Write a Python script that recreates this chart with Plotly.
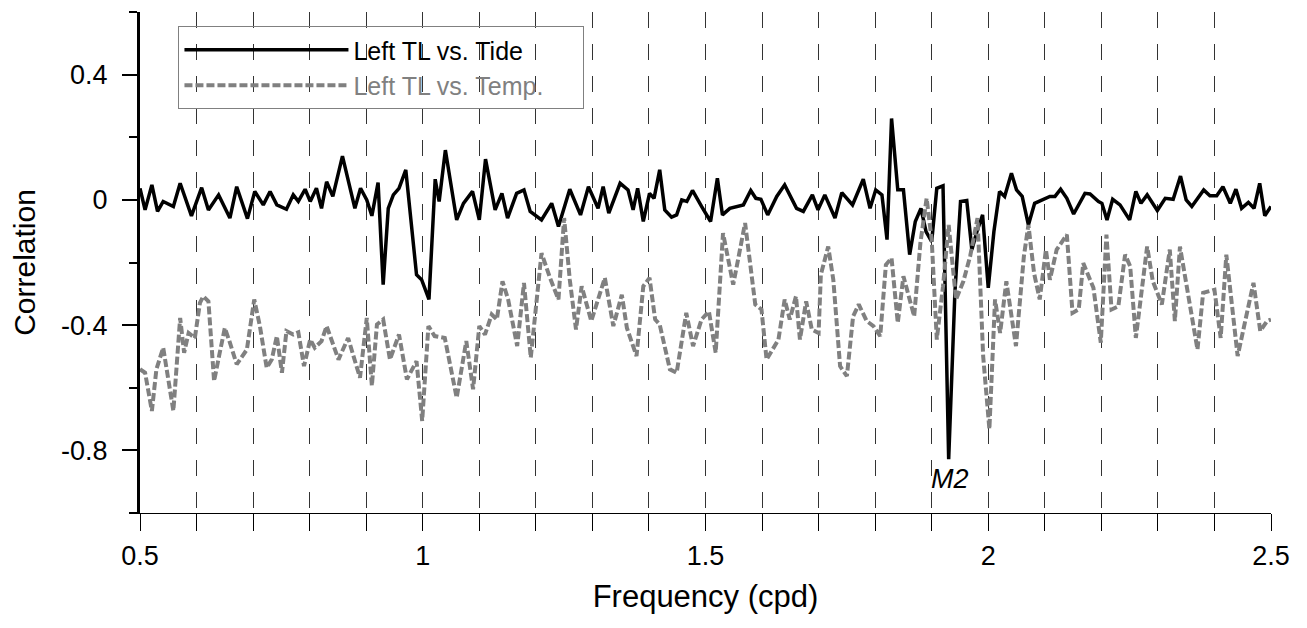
import plotly.graph_objects as go

# Left TL vs. Tide
tide_freq = [
    0.500, 0.509, 0.521, 0.531, 0.541, 0.559, 0.571, 0.591, 0.609, 0.621, 0.639, 0.659, 0.671, 0.690,
    0.703, 0.718, 0.730, 0.742, 0.759, 0.771, 0.780, 0.792, 0.801, 0.812, 0.821, 0.830,
    0.841, 0.858, 0.880, 0.890, 0.901, 0.910, 0.921, 0.930, 0.939, 0.948, 0.958, 0.970, 0.989, 0.998,
    1.011, 1.022, 1.029, 1.040, 1.060, 1.072, 1.088, 1.100, 1.111, 1.128, 1.140, 1.150,
    1.166, 1.179, 1.190, 1.210, 1.228, 1.240, 1.260, 1.279, 1.293, 1.310, 1.319, 1.329, 1.349, 1.363,
    1.372, 1.380, 1.390, 1.401, 1.409, 1.419, 1.428, 1.440, 1.449, 1.458, 1.467, 1.477, 1.493,
    1.509, 1.521, 1.530, 1.543, 1.567, 1.580, 1.589, 1.598, 1.610, 1.626, 1.640, 1.661, 1.673, 1.689,
    1.699, 1.711, 1.729, 1.741, 1.760, 1.779, 1.791, 1.801,
    1.812, 1.821, 1.829, 1.840, 1.850, 1.861, 1.871, 1.881, 1.890, 1.900, 1.909, 1.920, 1.930, 1.941,
    1.951, 1.962, 1.971, 1.980, 1.990, 2.000, 2.010, 2.020, 2.029, 2.041, 2.050, 2.060, 2.071, 2.082,
    2.094, 2.109, 2.118, 2.128,
    2.139, 2.151, 2.171, 2.180, 2.195, 2.201, 2.210, 2.220, 2.233, 2.250, 2.261, 2.270, 2.281, 2.299,
    2.313, 2.327, 2.340, 2.350, 2.360, 2.369, 2.381, 2.392, 2.404, 2.415, 2.428, 2.438, 2.448, 2.460,
    2.470, 2.480, 2.489, 2.500,
]
tide_corr = [
    0.037, -0.032, 0.048, -0.037, -0.005, -0.021, 0.053, -0.051, 0.039, -0.032, 0.016, -0.058, 0.042, -0.060,
    0.027, -0.016, 0.027, -0.016, -0.030, 0.016, -0.005, 0.034, -0.005, 0.037, -0.027, 0.058,
    0.011, 0.140, -0.027, 0.037, 0.000, -0.051, 0.055, -0.271, -0.027, 0.016, 0.037, 0.096, -0.239, -0.255,
    -0.318, 0.066, -0.005, 0.159, -0.064, -0.011, 0.027, -0.064, 0.130, -0.032, 0.021, -0.058,
    0.021, 0.032, -0.037, -0.064, -0.011, -0.085, 0.034, -0.048, 0.042, -0.027, 0.042, -0.042, 0.053, 0.032,
    -0.032, 0.037, -0.069, 0.021, 0.005, 0.096, -0.032, -0.055, -0.048, 0.000, -0.005, 0.030, -0.021,
    -0.069, 0.069, -0.048, -0.027, -0.016, 0.030, 0.005, 0.002, -0.048, 0.011, 0.048, -0.027, -0.037, 0.016,
    -0.032, 0.016, -0.058, 0.023, -0.016, 0.066, -0.027, 0.032,
    0.016, -0.127, 0.260, 0.032, 0.032, -0.175, -0.069, -0.027, -0.101, -0.133, 0.037, 0.045, -0.828, -0.297,
    -0.005, -0.002, -0.159, -0.101, -0.048, -0.281, -0.101, 0.027, 0.011, 0.085, 0.032, 0.011, -0.080, -0.011,
    0.000, 0.011, 0.011, 0.034,
    0.005, -0.045, 0.021, 0.019, -0.005, -0.011, -0.064, 0.002, -0.016, -0.064, 0.027, -0.011, 0.016, -0.034,
    0.005, 0.002, 0.076, 0.000, -0.021, 0.000, 0.032, 0.013, 0.013, 0.042, -0.011, 0.034, -0.027, -0.008,
    -0.027, 0.053, -0.051, -0.021,
]

# Left TL vs. Temp.
temp_freq = [
    0.500, 0.509, 0.521, 0.529, 0.541, 0.550, 0.559, 0.571, 0.578, 0.586, 0.597, 0.606, 0.612, 0.621,
    0.631, 0.641, 0.650, 0.659, 0.671, 0.689, 0.702, 0.712, 0.724, 0.733, 0.742, 0.751, 0.759, 0.771,
    0.780, 0.790, 0.801, 0.809, 0.821, 0.830,
    0.851, 0.868, 0.889, 0.901, 0.910, 0.919, 0.930, 0.942, 0.958, 0.972, 0.989, 0.999, 1.010, 1.021,
    1.039, 1.060, 1.077, 1.089, 1.100, 1.110, 1.122, 1.131, 1.141, 1.151,
    1.167, 1.179, 1.191, 1.210, 1.225, 1.240, 1.250, 1.260, 1.271, 1.281, 1.298, 1.322, 1.337, 1.352,
    1.361, 1.378, 1.390, 1.401, 1.411, 1.419, 1.437, 1.449, 1.466, 1.478, 1.493, 1.506,
    1.518, 1.531, 1.549, 1.570, 1.588, 1.599, 1.608, 1.629, 1.640, 1.649, 1.660, 1.667, 1.678, 1.688,
    1.700, 1.704, 1.717, 1.726, 1.738, 1.750, 1.761, 1.771, 1.785, 1.797, 1.809,
    1.819, 1.829, 1.840, 1.850, 1.869, 1.880, 1.891, 1.900, 1.909, 1.920, 1.930, 1.943, 1.956, 1.968,
    1.981, 1.991, 2.002, 2.012, 2.021, 2.032, 2.049, 2.063, 2.071, 2.081, 2.091, 2.102, 2.109, 2.121,
    2.139, 2.149, 2.160, 2.168, 2.186, 2.199, 2.209, 2.218, 2.230, 2.242, 2.251, 2.261, 2.281, 2.291,
    2.307, 2.321, 2.330, 2.339, 2.370, 2.380, 2.400, 2.411, 2.421, 2.441, 2.469, 2.481, 2.493, 2.500,
]
temp_corr = [
    -0.541, -0.552, -0.674, -0.541, -0.472, -0.573, -0.674, -0.377, -0.488, -0.425, -0.441, -0.329, -0.308, -0.324,
    -0.579, -0.488, -0.409, -0.456, -0.525, -0.478, -0.318, -0.403, -0.536, -0.510, -0.435, -0.552, -0.419, -0.430,
    -0.423, -0.531, -0.446, -0.472, -0.451, -0.403,
    -0.510, -0.441, -0.568, -0.377, -0.594, -0.398, -0.382, -0.510, -0.430, -0.573, -0.515, -0.706, -0.403, -0.435,
    -0.441, -0.632, -0.451, -0.605, -0.403, -0.430, -0.366, -0.382, -0.260, -0.318,
    -0.467, -0.265, -0.504, -0.170, -0.249, -0.318, -0.058, -0.255, -0.414, -0.276, -0.387, -0.249, -0.403, -0.303,
    -0.409, -0.499, -0.276, -0.249, -0.382, -0.398, -0.541, -0.552, -0.361, -0.467, -0.382, -0.356,
    -0.488, -0.106, -0.271, -0.074, -0.334, -0.350, -0.510, -0.446, -0.318, -0.382, -0.308, -0.446, -0.324, -0.414,
    -0.425, -0.239, -0.149, -0.255, -0.531, -0.563, -0.372, -0.334, -0.387, -0.403, -0.435,
    -0.207, -0.186, -0.393, -0.244, -0.372, -0.138, 0.005, -0.127, -0.446, -0.276, -0.080, -0.318, -0.260, -0.180,
    -0.058, -0.499, -0.732, -0.318, -0.425, -0.260, -0.467, -0.180, -0.080, -0.234, -0.318, -0.159, -0.255, -0.159,
    -0.111, -0.361, -0.350, -0.202, -0.281, -0.456, -0.111, -0.350, -0.340, -0.175, -0.212, -0.441, -0.149, -0.260,
    -0.334, -0.159, -0.387, -0.149, -0.478, -0.297, -0.287, -0.441, -0.175, -0.499, -0.265, -0.419, -0.387, -0.382,
]

x_tickvals = [0.5, 1.0, 1.5, 2.0, 2.5]
x_ticktext = ["0.5", "1", "1.5", "2", "2.5"]
y_tickvals = [-0.8, -0.4, 0.0, 0.4]
y_ticktext = ["-0.8", "-0.4", "0", "0.4"]

FONT = "Liberation Sans, Arial, sans-serif"
GRAY = "#808080"
NBSP = "\u00a0"

fig = go.Figure()

fig.add_trace(go.Scatter(
    x=tide_freq, y=tide_corr, mode="lines",
    name="Left TL vs. Tide",
    line=dict(color="black", width=3.5),
))
# trailing no-break spaces widen the legend box like the original
fig.add_trace(go.Scatter(
    x=temp_freq, y=temp_corr, mode="lines",
    name=f"<span style='color:{GRAY}'>Left TL vs. Temp.</span>" + NBSP * 5,
    line=dict(color=GRAY, width=4, dash="8px,3px"),
))

fig.add_annotation(
    x=1.933, y=-0.89, text="<i>M2</i>", showarrow=False,
    font=dict(family=FONT, size=27, color="black"),
)

# page body has an 8px margin, so the figure is 8px smaller than the window
fig.update_layout(
    width=1299, height=620,
    margin=dict(l=132, r=36, t=4, b=115),
    paper_bgcolor="white", plot_bgcolor="white",
    font=dict(family=FONT, color="black"),
    showlegend=True,
    legend=dict(
        x=0.034, y=0.972, xanchor="left", yanchor="top",
        bordercolor=GRAY, borderwidth=1, bgcolor="rgba(0,0,0,0)",
        font=dict(family=FONT, size=25, color="black"),
        itemwidth=164, tracegroupgap=0,
    ),
    xaxis=dict(
        range=[0.5, 2.5],
        tickmode="array", tickvals=x_tickvals, ticktext=x_ticktext,
        ticks="outside", ticklen=17, tickwidth=1, tickcolor="black",
        tickfont=dict(size=27), ticklabelstandoff=2,
        showline=True, linecolor="black", linewidth=1,
        showgrid=True, gridcolor="#333333", gridwidth=1, griddash="16px,16px",
        zeroline=False, automargin=False,
        minor=dict(tickmode="linear", tick0=0.5, dtick=0.1, ticks="outside", ticklen=17,
                   tickwidth=1, tickcolor="black",
                   showgrid=True, gridcolor="#333333", gridwidth=1, griddash="16px,16px"),
        title=dict(text="Frequency (cpd)", font=dict(size=31), standoff=14),
    ),
    # inner half of the crossing ticks on the frequency axis
    xaxis2=dict(
        overlaying="x", anchor="y", side="bottom", range=[0.5, 2.5],
        tickmode="linear", tick0=0.5, dtick=0.1,
        ticks="inside", ticklen=15, tickwidth=1, tickcolor="black",
        showticklabels=False, showgrid=False, showline=False, zeroline=False,
    ),
    yaxis=dict(
        range=[-1.0, 0.6],
        tickmode="array", tickvals=y_tickvals, ticktext=y_ticktext,
        ticks="outside", ticklen=15, tickwidth=2, tickcolor="black",
        tickfont=dict(size=27), ticklabelstandoff=9,
        showline=True, linecolor="black", linewidth=3,
        showgrid=False, zeroline=False, automargin=False,
        minor=dict(tickmode="linear", tick0=0, dtick=0.2, ticks="outside", ticklen=8,
                   tickwidth=2, tickcolor="black", showgrid=False),
        title=dict(text="Correlation", font=dict(size=30), standoff=17),
    ),
)

fig.write_html("out.html")
